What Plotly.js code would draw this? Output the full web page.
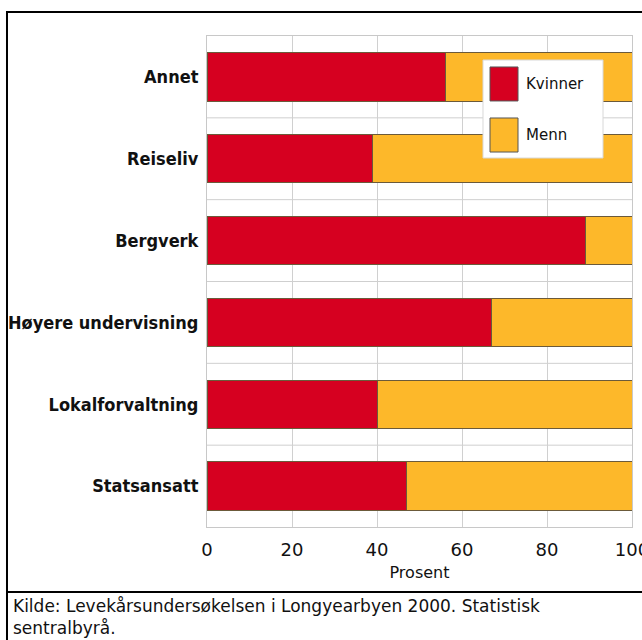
<!DOCTYPE html>
<html>
<head>
<meta charset="utf-8">
<script src="https://cdn.plot.ly/plotly-3.0.1.min.js"></script>
<style>html,body{margin:0;padding:0;background:#fff;}#chart{width:642px;height:640px;}</style>
</head>
<body>
<div id="chart"></div>
<script>
const categories = ["Annet", "Reiseliv", "Bergverk", "Høyere undervisning", "Lokalforvaltning", "Statsansatt"];
const kvinner = [56, 39, 89, 67, 40, 47];
const menn = [44, 61, 11, 33, 60, 53];
const seriesNames = ["Kvinner", "Menn"];
const seriesColors = ["#d60020", "#fdb82a"];
const xTicks = [0, 20, 40, 60, 80, 100];
const xTitle = "Prosent";
const source = "Kilde: Levekårsundersøkelsen i Longyearbyen 2000. Statistisk<br>sentralbyrå.";

const FONT = "DejaVu Sans, sans-serif";
const LABELFONT = "DejaVu Sans Condensed, DejaVu Sans, sans-serif";

const traces = [kvinner, menn].map((vals, i) => ({
  type: "bar",
  orientation: "h",
  name: seriesNames[i],
  y: categories,
  x: vals,
  marker: {color: seriesColors[i], line: {color: "#6b5a3a", width: 1}},
  hoverinfo: "x+y+name"
}));

const shapes = [];
for (let i = 0; i < categories.length - 1; i++) {
  shapes.push({type: "line", xref: "paper", yref: "y", x0: 0, x1: 1, y0: i + 0.5, y1: i + 0.5,
    line: {color: "#cfcfcf", width: 1}, layer: "below"});
}
shapes.push({type: "rect", xref: "paper", yref: "paper", x0: -0.4706, x1: 1.06, y0: -0.26, y1: 1.0489,
  line: {color: "#000", width: 2}});
shapes.push({type: "line", xref: "paper", yref: "paper", x0: -0.4706, x1: 1.06, y0: -0.1324, y1: -0.1324,
  line: {color: "#000", width: 2}});
shapes.push({type: "rect", xref: "paper", yref: "paper", x0: 0.6494, x1: 0.9318, y0: 0.7515, y1: 0.9511,
  fillcolor: "#fff", line: {color: "#d8d8d8", width: 1}, layer: "above"});
const swY = [[0.8677, 0.9369], [0.7637, 0.8330]];
swY.forEach((yy, i) => {
  shapes.push({type: "rect", xref: "paper", yref: "paper", x0: 0.6659, x1: 0.7318, y0: yy[0], y1: yy[1],
    fillcolor: seriesColors[i], line: {color: "#555", width: 1}, layer: "above"});
});

const annotations = [
  {xref: "paper", yref: "paper", x: -0.4612, y: -0.1365, xanchor: "left", yanchor: "top", align: "left",
   text: source, showarrow: false, font: {family: FONT, size: 17, color: "#111"}},
];
seriesNames.forEach((n, i) => {
  annotations.push({xref: "paper", yref: "paper", x: 0.745, y: (swY[i][0] + swY[i][1]) / 2,
    xanchor: "left", yanchor: "middle", text: n, showarrow: false,
    font: {family: FONT, size: 15, color: "#111"}});
});

const layout = {
  width: 642, height: 640,
  margin: {l: 207, r: 10, t: 36, b: 113},
  barmode: "stack",
  bargap: 0.41,
  showlegend: false,
  paper_bgcolor: "#fff",
  plot_bgcolor: "#fff",
  font: {family: FONT, color: "#111"},
  xaxis: {
    range: [0, 100], tickvals: xTicks, ticks: "", ticklabelstandoff: 6, ticklabeloverflow: "allow",
    showgrid: true, gridcolor: "#d0d0d0", gridwidth: 1, zeroline: false,
    showline: true, linecolor: "#c8c8c8", mirror: true,
    tickfont: {family: FONT, size: 18, color: "#111"},
    title: {text: xTitle, font: {family: FONT, size: 16, color: "#111"}, standoff: 8}
  },
  yaxis: {
    autorange: "reversed", type: "category", showgrid: false,
    showline: true, linecolor: "#c8c8c8", mirror: true, ticks: "",
    tickfont: {family: LABELFONT, size: 18, color: "#111", weight: "bold"}, ticklabelstandoff: 4
  },
  shapes: shapes,
  annotations: annotations
};

Plotly.newPlot("chart", traces, layout, {displayModeBar: false, staticPlot: true});
</script>
</body>
</html>
